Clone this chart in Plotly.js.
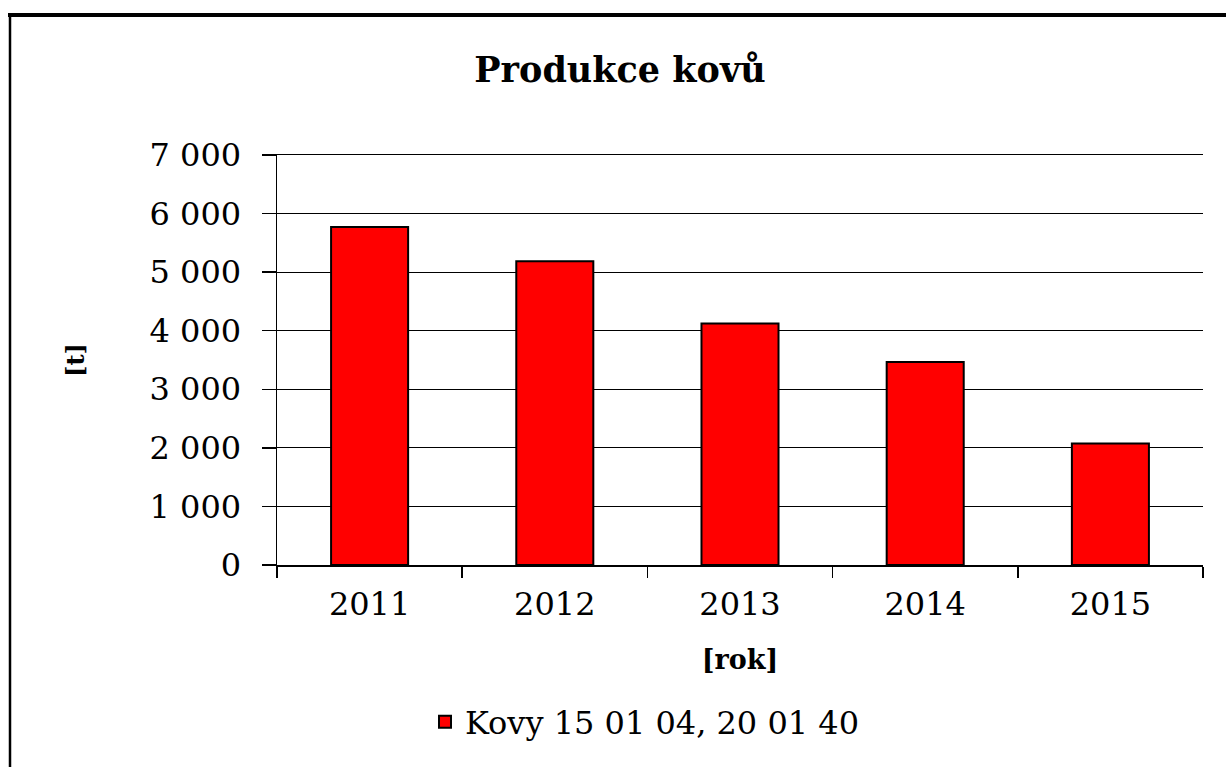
<!DOCTYPE html>
<html>
<head>
<meta charset="utf-8">
<script src="https://cdn.plot.ly/plotly-3.0.1.min.js"></script>
<style>
  html, body { margin: 0; padding: 0; background: #fff; }
  #chart { width: 1226px; height: 767px; }
</style>
</head>
<body>
<div id="chart"></div>
<script>
const years = ['2011', '2012', '2013', '2014', '2015'];
const production = [5770, 5185, 4125, 3465, 2075];
const seriesName = 'Kovy 15 01 04, 20 01 40';
const chartTitle = 'Produkce kovů';
const xTitle = '[rok]';
const yTitle = '[t]';

const W = 1226, H = 767;
const L = 277, R = 23, T = 155, B = 202;
const pw = W - L - R, ph = H - T - B;
const px = x => (x - L) / pw;
const py = y => (H - B - y) / ph;

const serif = 'DejaVu Serif, Liberation Serif, serif';

const data = [{
  type: 'bar',
  x: years,
  y: production,
  name: seriesName,
  marker: { color: '#ff0000', line: { color: '#000000', width: 2 } },
  showlegend: true
}];

const layout = {
  width: W, height: H,
  margin: { l: L, r: R, t: T, b: B, pad: 0 },
  paper_bgcolor: '#ffffff',
  plot_bgcolor: '#ffffff',
  separators: ', ',
  bargap: 0.584,
  font: { family: serif, color: '#000000' },
  title: {
    text: chartTitle,
    font: { family: serif, size: 35, weight: 'bold', color: '#000' },
    xref: 'container', x: 620 / W, xanchor: 'center',
    yref: 'container', y: 1 - 70 / H, yanchor: 'middle'
  },
  xaxis: {
    type: 'category',
    showline: true, linecolor: '#000', linewidth: 1.5, mirror: true,
    ticks: 'outside', tickson: 'boundaries', ticklen: 11, tickwidth: 1.5, tickcolor: '#000',
    ticklabelstandoff: 10,
    tickfont: { family: serif, size: 32, color: '#000' },
    showgrid: false,
    title: { text: xTitle, font: { family: serif, size: 27, weight: 'bold', color: '#000' }, standoff: 28 },
    automargin: false
  },
  yaxis: {
    range: [0, 7000], dtick: 1000, tick0: 0,
    tickformat: ',d',
    showline: true, linecolor: '#000', linewidth: 1.5,
    ticks: 'outside', ticklen: 14, tickwidth: 1.5, tickcolor: '#000',
    ticklabelstandoff: 14,
    tickfont: { family: serif, size: 32, color: '#000' },
    showgrid: true, gridcolor: '#000', gridwidth: 1.2,
    zeroline: false,
    title: { text: yTitle, font: { family: serif, size: 24, weight: 'bold', color: '#000' }, standoff: 58 },
    automargin: false
  },
  legend: {
    orientation: 'h',
    x: px(425), xanchor: 'left',
    y: py(722), yanchor: 'middle',
    font: { family: serif, size: 32, color: '#000' },
    bgcolor: 'rgba(0,0,0,0)'
  },
  shapes: [
    { type: 'line', xref: 'paper', yref: 'paper', x0: px(8), x1: px(W + 5), y0: py(15), y1: py(15),
      line: { color: '#000', width: 4 } },
    { type: 'line', xref: 'paper', yref: 'paper', x0: px(10), x1: px(10), y0: py(13), y1: py(H + 5),
      line: { color: '#000', width: 2.5 } }
  ]
};

Plotly.newPlot('chart', data, layout, { displayModeBar: false, staticPlot: true });
</script>
</body>
</html>
